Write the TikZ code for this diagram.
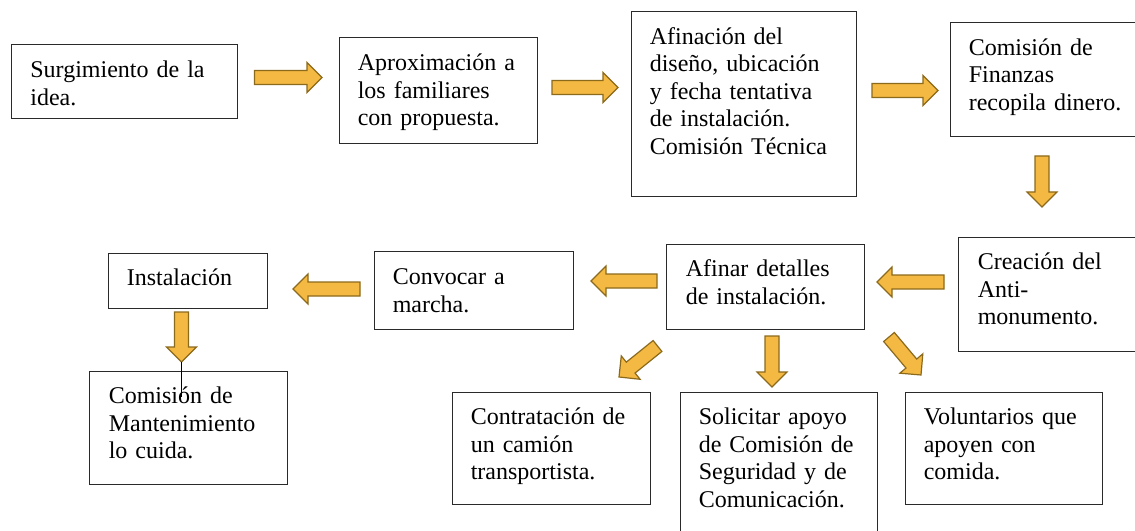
\documentclass[tikz,border=0pt]{standalone}
\usepackage{fontspec}
\setmainfont{Liberation Serif}
\usetikzlibrary{calc,fit}
\definecolor{arrfill}{HTML}{F4B942}
\definecolor{arredge}{HTML}{8C6A1C}
\definecolor{boxline}{HTML}{2A2A2A}
\tikzset{
  box/.style={draw=boxline, line width=0.75pt, inner sep=0pt, rectangle},
  txt/.style={anchor=base west, inner sep=0pt, align=left, text width=300pt,
    font=\fontsize{18pt}{20.7pt}\selectfont},
  barrow/.style={fill=arrfill, draw=arredge, line width=0.9pt, line join=miter},
  thinline/.style={draw=black, line width=0.6pt}
}
\newcommand{\barw}[2]{%
  \coordinate (hh) at ($(#2)!11.25pt!(#1)$);
  \filldraw[barrow] ($(#1)!5.25pt!90:(#2)$) -- ($(hh)!5.25pt!90:(#2)$)
    -- ($(hh)!11.25pt!90:(#2)$) -- (#2) -- ($(hh)!11.25pt!-90:(#2)$)
    -- ($(hh)!5.25pt!-90:(#2)$) -- ($(#1)!5.25pt!-90:(#2)$) -- cycle;
}
\begin{document}
\begin{tikzpicture}[x=0.75pt,y=-0.75pt]
\clip (0,0) rectangle (1135,531);
\fill[white] (0,0) rectangle (1135,531);
% boxes
\node[box, fit={(11.6,45) (237.5,119)}] (b1) {};
\node[box, fit={(339,38) (537,144)}] (b2) {};
\node[box, fit={(631,11.7) (856.5,196.7)}] (b3) {};
\node[box, fit={(950,22.7) (1140,136.7)}] (b4) {};
\node[box, fit={(958,237) (1140,351)}] (b5) {};
\node[box, fit={(666,244) (864,329)}] (b6) {};
\node[box, fit={(374,251) (573,329)}] (b7) {};
\node[box, fit={(108,253) (267,308)}] (b8) {};
\node[box, fit={(89,371) (287,484)}] (b9) {};
\node[box, fit={(452,392) (650,504)}] (b10) {};
\node[box, fit={(680,392) (877,540)}] (b11) {};
\node[box, fit={(905,392) (1102,504)}] (b12) {};
% texts
\node[txt] (t1) at ([shift={(19,33)}]b1.north west) {Surgimiento de la\\idea.};
\node[txt] (t2) at ([shift={(19,33)}]b2.north west) {Aproximación a\\los familiares\\con propuesta.};
\node[txt] (t3) at ([shift={(19,33)}]b3.north west) {Afinación del\\diseño, ubicación\\y fecha tentativa\\de instalación.\\Comisión Técnica};
\node[txt] (t4) at ([shift={(19,33)}]b4.north west) {Comisión de\\Finanzas\\recopila dinero.};
\node[txt] (t5) at ([shift={(20,33)}]b5.north west) {Creación del\\Anti-\\monumento.};
\node[txt] (t6) at ([shift={(20,33)}]b6.north west) {Afinar detalles\\de instalación.};
\node[txt] (t7) at ([shift={(19,34)}]b7.north west) {Convocar a\\marcha.};
\node[txt] (t8) at ([shift={(19,33)}]b8.north west) {Instalación};
\node[txt] (t9) at ([shift={(20,33)}]b9.north west) {Comisión de\\Mantenimiento\\lo cuida.};
\node[txt] (t10) at ([shift={(19,33)}]b10.north west) {Contratación de\\un camión\\transportista.};
\node[txt] (t11) at ([shift={(19,33)}]b11.north west) {Solicitar apoyo\\de Comisión de\\Seguridad y de\\Comunicación.};
\node[txt] (t12) at ([shift={(19,33)}]b12.north west) {Voluntarios que\\apoyen con\\comida.};
% arrow end points
\coordinate (a1s) at (254.5,77.5); \coordinate (a1e) at (322,77.5);
\coordinate (a2s) at (552,87.5);   \coordinate (a2e) at (618,87.5);
\coordinate (a3s) at (872,90.5);   \coordinate (a3e) at (938,90.5);
\coordinate (a4s) at (1042,156);   \coordinate (a4e) at (1042,207);
\coordinate (a5s) at (944,282);    \coordinate (a5e) at (877,282);
\coordinate (a6s) at (657,281);    \coordinate (a6e) at (591,281);
\coordinate (a7s) at (360,289);    \coordinate (a7e) at (293,289);
\coordinate (a8s) at (181.5,312);  \coordinate (a8e) at (181.5,362);
\coordinate (a9s) at (657.5,346);  \coordinate (a9e) at (619,377);
\coordinate (a10s) at (772,336);   \coordinate (a10e) at (772,387);
\coordinate (a11s) at (889,337);   \coordinate (a11e) at (921,375);
\coordinate (lnend) at (181.5,397);
\barw{a1s}{a1e}
\barw{a2s}{a2e}
\barw{a3s}{a3e}
\barw{a4s}{a4e}
\barw{a5s}{a5e}
\barw{a6s}{a6e}
\barw{a7s}{a7e}
\barw{a8s}{a8e}
\barw{a9s}{a9e}
\barw{a10s}{a10e}
\barw{a11s}{a11e}
\draw[thinline] (a8e) -- (lnend);
\end{tikzpicture}
\end{document}
